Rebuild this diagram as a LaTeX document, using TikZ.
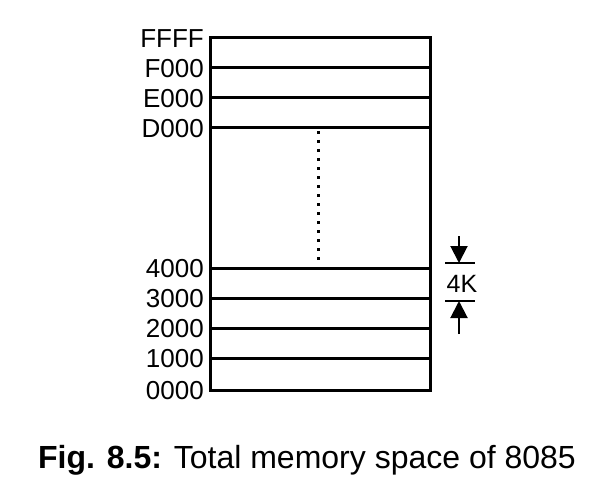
\documentclass[tikz,border=0pt]{standalone}
\usepackage{fontspec}
\setmainfont{Liberation Sans}
\usetikzlibrary{arrows.meta}
\tikzset{
	addr/.style={anchor=east,inner sep=0pt,font=\fontsize{26}{30}\selectfont},
	rowline/.style={line width=3pt},
	bar/.style={line width=2.6pt},
}
\begin{document}
\begin{tikzpicture}[x=1pt,y=-1pt]
	\useasboundingbox (0,0) rectangle (613,484);
	%outline
	\draw[rowline] (210,38) rectangle (430,390);
	
	%rows and labels
	\foreach \y/\t in {38/FFFF,68/F000,98/E000,128/D000,268/4000,298/3000,328/2000,358/1000,390/0000}{
		\draw[rowline] (210,\y)--(430,\y);
		\node[addr] (a\t) at (204,\y+1) {\t};
	}
	
	%dots
	\draw[line width=3pt,dash pattern=on 3pt off 6pt] (318,131)--(318,265);
	
	%4K size
	\coordinate (upT) at (459,236);
	\coordinate (upB) at (459,263);
	\coordinate (loT) at (459,301);
	\coordinate (loB) at (459,334);
	\draw[bar] (445,263)--(475,263);
	\draw[bar] (445,301)--(475,301);
	\draw[line width=2pt,-{Triangle[length=17pt,width=17pt]}] (upT)--(upB);
	\draw[line width=2pt,-{Triangle[length=17pt,width=17pt]}] (loB)--(loT);
	\node[inner sep=0pt,font=\fontsize{25}{28}\selectfont] (size) at (462,284) {4K};
	
	%caption
	\node[inner sep=0pt,font=\fontsize{32}{36}\selectfont] (cap) at (307,460) {\textbf{Fig. 8.5:} Total memory space of 8085};
\end{tikzpicture}
\end{document}
